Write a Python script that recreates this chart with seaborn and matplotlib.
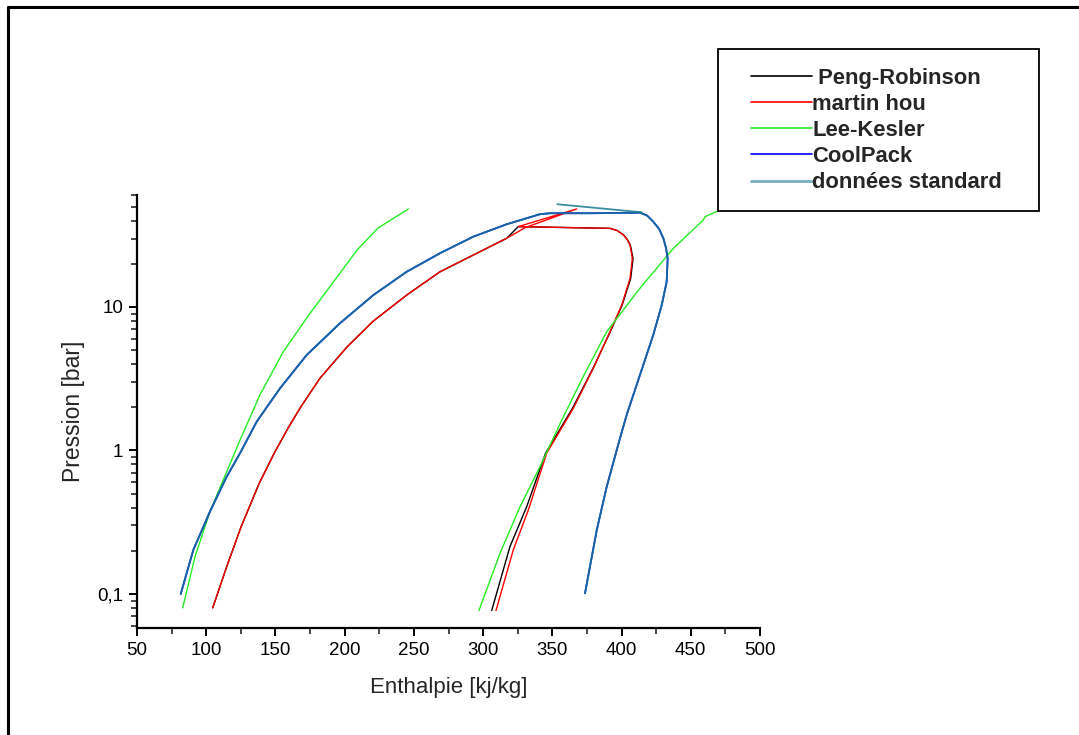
import numpy as np
import pandas as pd
import matplotlib
matplotlib.use("Agg")
import matplotlib.pyplot as plt
import matplotlib.ticker as mticker
from matplotlib.lines import Line2D
from matplotlib.patches import Rectangle
import seaborn as sns

# ---------------- data ----------------
models = ["Peng-Robinson", "martin hou", "Lee-Kesler", "CoolPack", "données standard"]

# Peng-Robinson (black): liquid -> top -> vapour
pr_h = [104.7, 114.8, 125.2, 138.3, 149.1, 159.1, 167.7, 182.2, 201.5, 220.7, 244.8,
        268.9, 292.9, 317.0, 325.4, 391.7, 396.9, 401.5, 404.2, 406.3, 408.3, 406.6,
        400.4, 391.9, 379.4, 364.6, 345.1, 331.5, 319.4, 306.2]
pr_p = [0.080, 0.155, 0.294, 0.591, 0.956, 1.43, 1.97, 3.19, 5.24, 7.98, 12.1,
        17.6, 23.0, 30.1, 36.3, 35.3, 34.1, 31.8, 29.5, 27.1, 21.8, 15.8,
        10.3, 6.73, 3.74, 1.97, 0.956, 0.406, 0.214, 0.0766]

# martin hou (red)
mh_h = [104.7, 114.8, 125.2, 138.3, 149.1, 159.1, 167.7, 182.2, 201.5, 220.7, 244.8,
        268.9, 292.9, 317.0, 330.3, 367.6, 325.4, 391.7, 396.7, 401.3, 404.0, 406.1,
        407.8, 406.1, 400.1, 391.7, 379.6, 365.2, 345.9, 332.7, 321.8, 309.3]
mh_p = [0.080, 0.155, 0.294, 0.591, 0.956, 1.43, 1.97, 3.19, 5.24, 7.98, 12.1,
        17.6, 23.0, 30.1, 35.7, 48.2, 36.3, 35.3, 34.1, 31.8, 29.5, 27.1,
        21.8, 15.8, 10.3, 6.73, 3.74, 1.97, 0.956, 0.385, 0.203, 0.0766]

# Lee-Kesler (green): liquid and vapour branches
lk_liq_h = [83.0, 91.9, 102.7, 112.3, 124.4, 138.8, 155.7, 175.0, 196.6, 208.9, 224.1, 246.0]
lk_liq_p = [0.080, 0.182, 0.375, 0.623, 1.18, 2.44, 4.88, 9.04, 17.2, 24.9, 35.5, 48.2]
lk_vap_h = [297.0, 312.2, 326.7, 341.1, 356.8, 372.9, 389.3, 413.3, 437.4, 459.1, 460.3, 471.1, 488.0]
lk_vap_p = [0.0766, 0.192, 0.406, 0.771, 1.63, 3.36, 6.73, 13.5, 25.6, 40.4, 42.6, 47.4, 56.0]

# CoolPack (blue) dome
cp_h = [81.6, 90.7, 102.7, 114.8, 124.4, 136.5, 153.3, 172.6, 196.6, 220.7, 244.8,
        268.9, 292.9, 317.0, 341.1, 348.3, 377.2, 413.3, 418.4, 422.9, 427.1, 430.2,
        432.1, 433.3, 432.6, 429.0, 422.9, 413.3, 403.7, 398.9, 389.3, 382.1, 373.6]
cp_p = [0.100, 0.203, 0.375, 0.657, 0.956, 1.59, 2.71, 4.63, 7.70, 12.1, 17.6,
        23.7, 30.9, 37.7, 44.3, 45.0, 45.0, 45.4, 43.4, 39.3, 35.0, 30.1,
        25.8, 21.8, 15.0, 10.3, 6.38, 3.36, 1.77, 1.22, 0.56, 0.279, 0.101]

# données standard (teal): same dome plus a short top segment
std_h = cp_h
std_p = cp_p
std_top_h = [353.6, 414.6]
std_top_p = [52.0, 45.7]

colors = ["#000000", "#ff0000", "#22ee22", "#0000ff", "#1a7a90"]

# ---------------- table for seaborn ----------------
rows = []
def add(name, seg, hs, ps):
    for h, p in zip(hs, ps):
        rows.append({"h": h, "p": p, "model": name, "seg": seg})

add(models[0], "pr", pr_h, pr_p)
add(models[1], "mh", mh_h, mh_p)
add(models[2], "lk1", lk_liq_h, lk_liq_p)
add(models[2], "lk2", lk_vap_h, lk_vap_p)
add(models[3], "cp", cp_h, cp_p)
add(models[4], "st1", std_h, std_p)
add(models[4], "st2", std_top_h, std_top_p)
df = pd.DataFrame(rows)

# ---------------- figure ----------------
sns.set_style("ticks")
plt.rcParams["font.family"] = ["Liberation Sans", "DejaVu Sans"]

W, H = 1079, 735
fig = plt.figure(figsize=(W / 100, H / 100), dpi=100)
ax = fig.add_axes([137 / W, 1 - 628 / H, (760 - 137) / W, (628 - 195) / H])

sns.lineplot(data=df, x="h", y="p", hue="model", hue_order=models,
             units="seg", estimator=None, sort=False,
             palette=dict(zip(models, colors)), linewidth=1.0, ax=ax)

for ln in ax.lines:
    c = matplotlib.colors.to_hex(ln.get_color())
    if c == colors[4]:
        ln.set_alpha(0.85)
        ln.set_linewidth(1.3)
    elif c == colors[3]:
        ln.set_linewidth(1.3)

ax.set_yscale("log")
ax.set_xlim(50, 500)
ax.set_ylim(0.0579, 60.3)

ax.xaxis.set_major_locator(mticker.MultipleLocator(50))
ax.xaxis.set_minor_locator(mticker.MultipleLocator(25))
ax.yaxis.set_major_locator(mticker.FixedLocator([0.1, 1, 10]))
ax.yaxis.set_major_formatter(mticker.FixedFormatter(["0,1", "1", "10"]))
ax.yaxis.set_minor_locator(mticker.LogLocator(base=10, subs=np.arange(2, 10)))
ax.yaxis.set_minor_formatter(mticker.NullFormatter())

ax.tick_params(which="major", direction="out", length=6, width=1.4, labelsize=13.5,
               colors="black", pad=4)
ax.tick_params(which="minor", direction="out", length=4, width=1.2)
for s in ["left", "bottom"]:
    ax.spines[s].set_linewidth(1.6)
    ax.spines[s].set_color("black")
sns.despine(ax=ax)

ax.set_xlabel("Enthalpie [kj/kg]", fontsize=16, labelpad=13)
ax.set_ylabel("Pression [bar]", fontsize=16.5, labelpad=9)

# legend with a box drawn like the reference
leg = ax.get_legend()
handles = leg.legend_handles
labels = [t.get_text() for t in leg.get_texts()]
leg.remove()
labels[0] = " " + labels[0]
for hd, c in zip(handles, colors):
    hd.set_linewidth(1.2)
    if c == colors[4]:
        hd.set_alpha(0.6)
        hd.set_linewidth(2.0)

box = Rectangle((718 / W, 1 - 211 / H), (1039 - 718) / W, (211 - 49) / H,
                transform=fig.transFigure, facecolor="white", edgecolor="black",
                linewidth=1.3, zorder=3)
fig.add_artist(box)
fig.legend(handles, labels, loc="upper left", bbox_to_anchor=(751 / W, 1 - 68 / H),
           frameon=False, borderpad=0, borderaxespad=0, handlelength=2.8,
           handletextpad=0.0, labelspacing=0.23,
           prop={"family": "Liberation Sans", "weight": "bold", "size": 15.8}).set_zorder(4)

# page border (top and left)
fig.add_artist(Line2D([8 / W, 1], [1 - 7 / H, 1 - 7 / H], transform=fig.transFigure,
                      color="black", linewidth=2.2))
fig.add_artist(Line2D([8 / W, 8 / W], [0, 1 - 7 / H], transform=fig.transFigure,
                      color="black", linewidth=2.2))

fig.savefig("out.png", dpi=100)
